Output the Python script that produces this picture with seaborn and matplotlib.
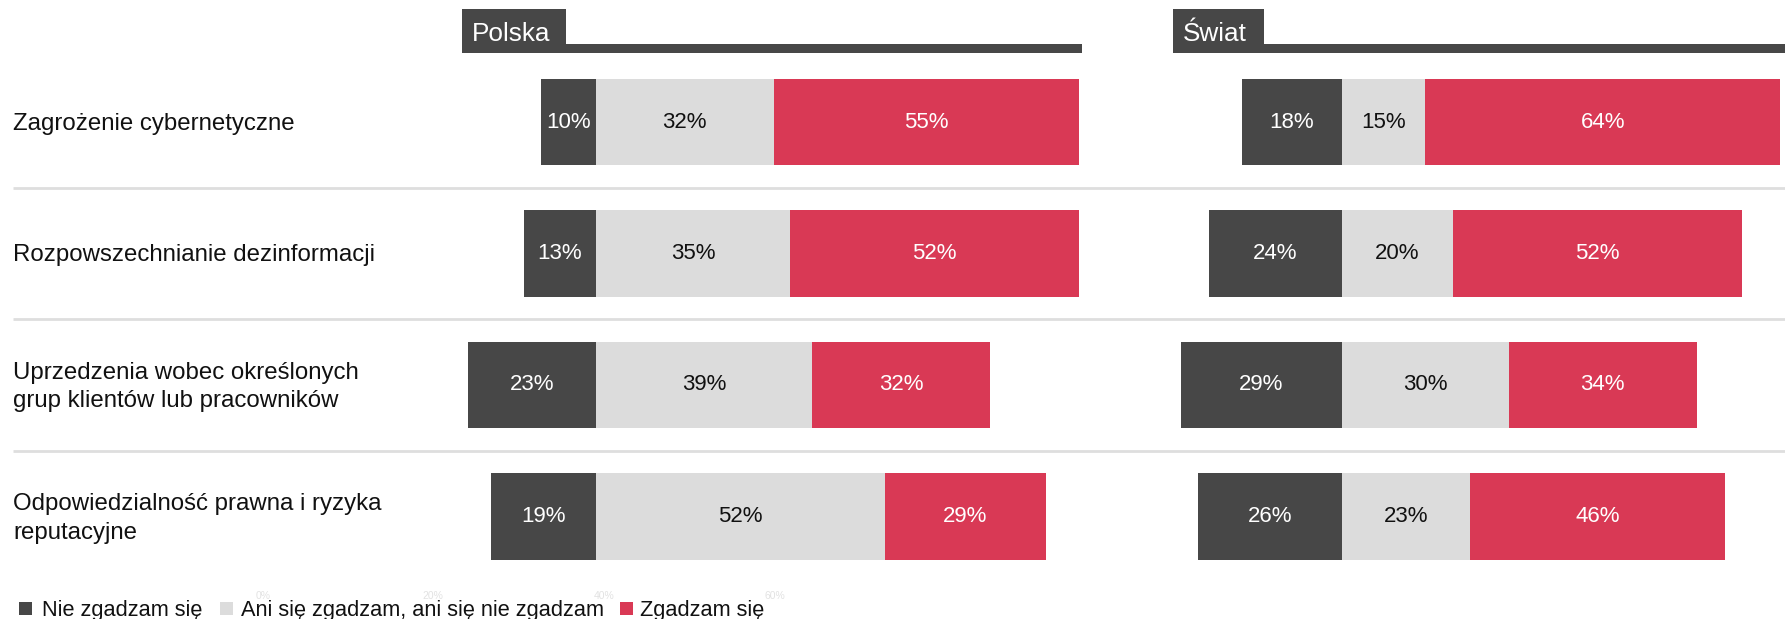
import pandas as pd
import matplotlib
matplotlib.use("Agg")
import matplotlib.pyplot as plt
from matplotlib.patches import Rectangle
import seaborn as sns

sns.set_theme(style="white")
plt.rcParams["font.family"] = ["Liberation Sans", "DejaVu Sans"]

# data
categories = [
    "Zagrożenie cybernetyczne",
    "Rozpowszechnianie dezinformacji",
    "Uprzedzenia wobec określonych\ngrup klientów lub pracowników",
    "Odpowiedzialność prawna i ryzyka\nreputacyjne",
]
pl_disagree = [10, 13, 23, 19]
pl_neutral = [32, 35, 39, 52]
pl_agree = [55, 52, 32, 29]
sw_disagree = [18, 24, 29, 26]
sw_neutral = [15, 20, 30, 23]
sw_agree = [64, 52, 34, 46]
legend_labels = ["Nie zgadzam się", "Ani się zgadzam, ani się nie zgadzam", "Zgadzam się"]
ghost_ticks = ["0%", "20%", "40%", "60%"]

DARK = "#474747"
GREY = "#dcdcdc"
RED = "#d93955"

W, H = 1785, 619
fig = plt.figure(figsize=(W / 100, H / 100), dpi=100)


def fx(px):
    return px / W


def fy(px):
    return 1 - px / H


PX_PER_PCT = 5.55
ROW_TOP, ROW_STEP = 122, 131.5
ax_top = ROW_TOP - ROW_STEP / 2
ax_bot = ax_top + ROW_STEP * 4
rect_y = fy(ax_bot)
rect_h = (ax_bot - ax_top) / H

# background: separators and row labels
bg = fig.add_axes([0, rect_y, 1, rect_h])
bg.set_xlim(0, W)
bg.set_ylim(3.5, -0.5)
bg.axis("off")
for y in [0.5, 1.5, 2.5]:
    bg.hlines(y, 13, W, color="#dedede", lw=2)
for i, lab in enumerate(categories):
    bg.text(13, i + 0.015, lab, fontsize=17.3, va="center", ha="left", color="#111111", linespacing=1.38)

panels = [
    ("Polska", 462, 1082, 596, 566, pl_disagree, pl_neutral, pl_agree),
    ("Świat", 1173, 1785, 1342, 1264, sw_disagree, sw_neutral, sw_agree),
]

for title, left, right, zero, box_r, dis, neu, agr in panels:
    ax = fig.add_axes([fx(left), rect_y, (right - left) / W, rect_h])
    ax.patch.set_alpha(0)
    df = pd.DataFrame({
        "category": categories,
        "agree_end": [n + a for n, a in zip(neu, agr)],
        "neutral": neu,
        "disagree_neg": [-d for d in dis],
    })
    common = dict(data=df, y="category", order=categories, orient="h", width=0.655,
                  saturation=1, errorbar=None, ax=ax, linewidth=0)
    sns.barplot(x="agree_end", color=RED, **common)
    sns.barplot(x="neutral", color=GREY, **common)
    sns.barplot(x="disagree_neg", color=DARK, **common)
    for i in range(len(categories)):
        ax.text(-dis[i] / 2, i, f"{dis[i]}%", ha="center", va="center", color="white", fontsize=16)
        ax.text(neu[i] / 2, i, f"{neu[i]}%", ha="center", va="center", color="#111111", fontsize=16)
        ax.text(neu[i] + agr[i] / 2, i, f"{agr[i]}%", ha="center", va="center", color="white", fontsize=16)
    ax.set_xlim(-(zero - left) / PX_PER_PCT, (right - zero) / PX_PER_PCT)
    ax.set_ylim(3.5, -0.5)
    ax.axis("off")

    # header box with line
    fig.add_artist(Rectangle((fx(left), fy(52.7)), (box_r - left) / W, (52.7 - 9) / H,
                             transform=fig.transFigure, color=DARK, lw=0))
    fig.add_artist(Rectangle((fx(left), fy(52.7)), (right - left) / W, (52.7 - 44) / H,
                             transform=fig.transFigure, color=DARK, lw=0))
    fig.text(fx(left + 9.5), fy(40.7), title, color="white", fontsize=18.8, va="baseline", ha="left")

# legend
sq_x = [19, 220, 620]
txt_x = [41.7, 241, 640]
for sx, tx, lab, col in zip(sq_x, txt_x, legend_labels, [DARK, GREY, RED]):
    fig.add_artist(Rectangle((fx(sx), fy(615)), 13 / W, 13 / H, transform=fig.transFigure, color=col, lw=0))
    fig.text(fx(tx), fy(616), lab, fontsize=15.7, va="baseline", ha="left", color="#111111")

# faint leftover axis ticks
for px, t in zip([263, 433, 604, 775], ghost_ticks):
    fig.text(fx(px), fy(596), t, fontsize=7.5, ha="center", va="center", color="#e2e2e2")

fig.savefig("out.png", dpi=100)
